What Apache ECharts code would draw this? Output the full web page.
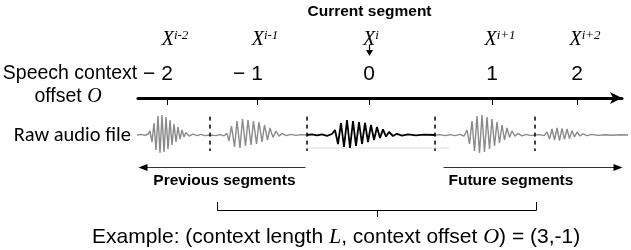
<!DOCTYPE html>
<html>
<head>
<meta charset="utf-8">
<script src="https://cdn.jsdelivr.net/npm/echarts@6/dist/echarts.min.js"></script>
<style>
  html, body { margin: 0; padding: 0; background: #fff; }
  #chart { width: 631px; height: 250px; }
</style>
</head>
<body>
<div id="chart"></div>
<script>
// speech context offsets and where each segment centre sits on the time axis (ms)
const offsets = [-2, -1, 0, 1, 2];
const segNames = ['i-2', 'i-1', 'i', 'i+1', 'i+2'];
const tickTimes = [58, 238, 462, 708, 878];
const boundaries = [144, 338, 594, 794]; // dashed segment borders
const axisRange = [0, 968];
const waveRange = [-2, 980];
const contextWindow = [158, 796]; // L = 3, O = -1
const prevArrow = [334, 0];
const nextArrow = [610, 968];

// raw audio, [ms, amplitude]
const wavePrev = [[-2,0],[6,0.03],[14,-0.02],[20,0.05],[24,0.2],[28,-0.35],[32,0.6],[36,-0.75],[40,0.95],[44,-0.9],[48,1.0],[52,-0.85],[56,0.9],[60,-0.7],[64,0.75],[68,-0.5],[72,0.55],[76,-0.35],[80,0.4],[84,-0.2],[88,0.25],[92,-0.1],[96,0.12],[102,-0.05],[110,0.04],[118,-0.03],[126,0.03],[134,-0.03],[144,0],
  [148,0.02],[156,-0.03],[164,0.02],[172,-0.04],[178,0.08],[182,-0.3],[187,0.45],[193,-0.6],[198,0.7],[204,-0.65],[209,0.8],[215,-0.55],[220,0.75],[226,-0.5],[231,0.7],[237,-0.45],[242,0.65],[248,-0.35],[253,0.5],[259,-0.25],[264,0.35],[270,-0.12],[276,0.2],[282,-0.06],[288,0.08],[296,-0.03],[306,0.03],[316,-0.02],[326,0.02],[338,0]];
const waveCur = [[338,0],[348,0.03],[358,-0.02],[368,0.03],[378,-0.04],[388,0.05],[394,0.25],[400,-0.45],[406,0.6],[412,-0.6],[418,0.75],[424,-0.65],[430,0.7],[436,-0.55],[442,0.65],[448,-0.45],[454,0.6],[460,-0.35],[466,0.5],[472,-0.25],[478,0.4],[484,-0.15],[490,0.28],[496,-0.08],[502,0.15],[510,-0.05],[518,0.06],[528,-0.03],[540,0.03],[556,-0.02],[572,0.02],[594,0]];
const waveNext = [[594,0],[604,0.02],[614,-0.03],[624,0.02],[634,-0.03],[644,0.03],[652,-0.06],[658,0.25],[663,-0.45],[668,0.7],[673,-0.8],[678,0.95],[683,-0.9],[688,1.0],[693,-0.85],[698,0.9],[703,-0.7],[708,0.8],[713,-0.55],[718,0.65],[723,-0.4],[728,0.5],[733,-0.25],[738,0.35],[743,-0.12],[748,0.2],[754,-0.06],[760,0.08],[768,-0.04],[776,0.03],[785,-0.03],[794,0],
  [804,0.02],[812,-0.03],[818,0.15],[823,-0.2],[828,0.3],[833,-0.25],[838,0.35],[843,-0.28],[848,0.33],[853,-0.22],[858,0.3],[863,-0.18],[868,0.22],[873,-0.1],[878,0.15],[884,-0.05],[890,0.06],[898,-0.03],[908,0.03],[920,-0.02],[934,0.01],[948,-0.01],[964,0.01],[980,0]];
const curUnderline = [[338,-0.65],[624,-0.65]];

const SANS = '"Liberation Sans", Arial, sans-serif';
const SERIF = '"Liberation Serif", "Times New Roman", serif';

const chart = echarts.init(document.getElementById('chart'), null, {renderer: 'canvas'});

const option = {
  animation: false,
  backgroundColor: '#fff',
  grid: [
    {left: 137, width: 491, top: 115, height: 40},   // waveform
    {left: 138, width: 484, top: 88, height: 10}     // offset axis
  ],
  xAxis: [
    {gridIndex: 0, type: 'value', min: waveRange[0], max: waveRange[1], show: false},
    {
      gridIndex: 1, type: 'value', position: 'top', min: axisRange[0], max: axisRange[1],
      axisLine: {show: true, symbol: ['none', 'arrow'], symbolSize: [9, 12], lineStyle: {color: '#000', width: 3}},
      axisTick: {show: true, inside: true, length: 7, customValues: tickTimes, lineStyle: {color: '#000', width: 1}},
      splitLine: {show: false},
      axisLabel: {
        customValues: tickTimes, margin: 3, color: '#000',
        formatter: v => {
          const o = offsets[tickTimes.indexOf(v)];
          return o < 0 ? '{m|\u2212 }{d|' + (-o) + '}{p|}' : '{d|' + o + '}';
        },
        rich: {
          m: {fontFamily: SANS, fontSize: 21, color: '#000'},
          d: {fontFamily: SANS, fontSize: 21, color: '#000'},
          p: {width: 18}
        }
      }
    },
    {
      gridIndex: 1, type: 'value', position: 'top', offset: 37, min: axisRange[0], max: axisRange[1],
      axisLine: {show: false}, axisTick: {show: false}, splitLine: {show: false},
      axisLabel: {
        customValues: tickTimes, margin: 0,
        formatter: v => {
          const s = segNames[tickTimes.indexOf(v)];
          return '{' + (s.length > 1 ? 'p3' : 'p1') + '|}{x|X}{s|' + s + '}';
        },
        rich: {
          x: {fontFamily: SERIF, fontStyle: 'italic', fontSize: 20, color: '#000', lineHeight: 22},
          s: {fontFamily: SERIF, fontStyle: 'italic', fontSize: 13, color: '#000', lineHeight: 22, verticalAlign: 'top'},
          p1: {width: 4},
          p3: {width: 16}
        }
      }
    }
  ],
  yAxis: [
    {gridIndex: 0, type: 'value', min: -1, max: 1, show: false},
    {gridIndex: 1, type: 'value', min: 0, max: 1, show: false}
  ],
  series: [
    {
      type: 'line', xAxisIndex: 0, yAxisIndex: 0, data: curUnderline, symbol: 'none', silent: true,
      lineStyle: {color: '#dcdcdc', width: 1}
    },
    {
      type: 'line', xAxisIndex: 0, yAxisIndex: 0, data: wavePrev, symbol: 'none', silent: true,
      lineStyle: {color: '#8a8a8a', width: 1.4},
      markLine: {
        silent: true, symbol: 'none', label: {show: false},
        lineStyle: {color: '#000', type: [4, 4], width: 1.5},
        data: boundaries.map(t => [{coord: [t, 0.92]}, {coord: [t, -0.8]}])
      }
    },
    {
      type: 'line', xAxisIndex: 0, yAxisIndex: 0, data: waveCur, symbol: 'none', silent: true,
      lineStyle: {color: '#000', width: 1.8}
    },
    {
      type: 'line', xAxisIndex: 0, yAxisIndex: 0, data: waveNext, symbol: 'none', silent: true,
      lineStyle: {color: '#8a8a8a', width: 1.4}
    }
  ]
};
chart.setOption(option);

// annotations placed with the time axis scale
const px = t => Math.round(chart.convertToPixel({xAxisIndex: 0}, t)) + 0.5;
const xc = px(tickTimes[2]);
const xp0 = px(prevArrow[0]), xp1 = px(prevArrow[1]);
const xn0 = px(nextArrow[0]), xn1 = px(nextArrow[1]);
const xb0 = px(contextWindow[0]), xb1 = px(contextWindow[1]);
const xbm = Math.round((xb0 + xb1) / 2) + 0.5;
const arrowY = 167.5;

chart.setOption({
  graphic: [
    {type: 'text', x: xc, y: 12, style: {text: 'Current segment', font: 'bold 15.5px ' + SANS, fill: '#000', align: 'center', verticalAlign: 'middle'}},
    {type: 'line', shape: {x1: xc, y1: 45, x2: xc, y2: 51}, style: {stroke: '#000', lineWidth: 1.2}},
    {type: 'polygon', shape: {points: [[xc - 3.5, 50], [xc + 3.5, 50], [xc, 56]]}, style: {fill: '#000'}},
    {type: 'text', x: 70, y: 74, style: {text: 'Speech context', font: '19.5px ' + SANS, fill: '#000', align: 'center', verticalAlign: 'middle'}},
    {type: 'text', x: 68, y: 97, style: {
      text: '{a|offset }{o|O}', align: 'center', verticalAlign: 'middle',
      rich: {a: {fontFamily: SANS, fontSize: 19.5, fill: '#000'}, o: {fontFamily: SERIF, fontStyle: 'italic', fontSize: 20, fill: '#000'}}
    }},
    {type: 'text', x: 131, y: 136, style: {text: 'Raw audio file', font: '20.5px Carlito, Lato, ' + SANS, fill: '#000', align: 'right', verticalAlign: 'middle'}},
    // previous / future arrows
    {type: 'line', shape: {x1: xp0, y1: arrowY, x2: xp1 + 7, y2: arrowY}, style: {stroke: '#333', lineWidth: 1}},
    {type: 'polygon', shape: {points: [[xp1, arrowY], [xp1 + 9, arrowY - 3.5], [xp1 + 9, arrowY + 3.5]]}, style: {fill: '#000'}},
    {type: 'line', shape: {x1: xn0, y1: arrowY, x2: xn1 - 7, y2: arrowY}, style: {stroke: '#333', lineWidth: 1}},
    {type: 'polygon', shape: {points: [[xn1, arrowY], [xn1 - 9, arrowY - 3.5], [xn1 - 9, arrowY + 3.5]]}, style: {fill: '#000'}},
    {type: 'text', x: xp0 - 10, y: 181, style: {text: 'Previous segments', font: 'bold 15.5px ' + SANS, fill: '#000', align: 'right', verticalAlign: 'middle'}},
    {type: 'text', x: xn0 + 5, y: 181, style: {text: 'Future segments', font: 'bold 15.5px ' + SANS, fill: '#000', align: 'left', verticalAlign: 'middle'}},
    // context window bracket
    {type: 'polyline', shape: {points: [[xb0, 202], [xb0, 210.5], [xb1, 210.5], [xb1, 202]]}, style: {stroke: '#000', lineWidth: 1, fill: null}},
    {type: 'line', shape: {x1: xbm, y1: 210, x2: xbm, y2: 217}, style: {stroke: '#000', lineWidth: 1}},
    {type: 'text', x: 92, y: 237, style: {
      text: '{a|Example: (context length }{i|L}{a|, context offset }{i|O}{a|) = (3,-1)}',
      align: 'left', verticalAlign: 'middle',
      rich: {a: {fontFamily: SANS, fontSize: 21, fill: '#000'}, i: {fontFamily: SERIF, fontStyle: 'italic', fontSize: 22, fill: '#000'}}
    }}
  ]
});
</script>
</body>
</html>
